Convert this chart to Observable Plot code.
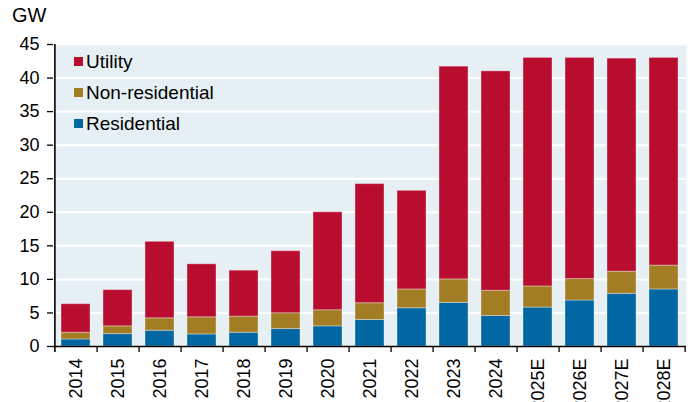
<!DOCTYPE html>
<html>
<head>
<meta charset="utf-8">
<script src="https://cdn.jsdelivr.net/npm/d3@7"></script>
<script src="https://cdn.jsdelivr.net/npm/@observablehq/plot@0.6"></script>
<style>
  html, body { margin: 0; padding: 0; background: #fff; }
  #wrap { position: relative; width: 692px; height: 402px; overflow: hidden; font-family: "Liberation Sans", Arial, sans-serif; color: #000; }
  #unit { position: absolute; left: 12px; top: 5px; font-size: 20px; line-height: 1; }
  .leg { position: absolute; left: 86px; font-size: 19px; line-height: 1; white-space: nowrap; }
  .sw { position: absolute; left: 74px; width: 9px; height: 9px; }
  svg { display: block; }
</style>
</head>
<body>
<div id="wrap"></div>
<script>
const years = ["2014","2015","2016","2017","2018","2019","2020","2021","2022","2023","2024","2025E","2026E","2027E","2028E"];
const seriesNames = ["Residential", "Non-residential", "Utility"];
const residential    = [1.05, 1.85, 2.35, 1.8, 2.05, 2.6, 3.0, 3.95, 5.7, 6.5, 4.55, 5.8, 6.85, 7.85, 8.5];
const nonResidential = [1.0, 1.15, 1.85, 2.55, 2.4, 2.35, 2.4, 2.5, 2.8, 3.5, 3.75, 3.15, 3.2, 3.3, 3.55];
const utility        = [4.25, 5.4, 11.4, 7.9, 6.85, 9.25, 14.6, 17.75, 14.7, 31.7, 32.7, 34.05, 32.95, 31.75, 30.95];
const yTicks = [0, 5, 10, 15, 20, 25, 30, 35, 40, 45];
const unitLabel = "GW";
const legendOrder = ["Utility", "Non-residential", "Residential"];
const colors = {"Utility": "#b80d2f", "Non-residential": "#a37d24", "Residential": "#0067a3"};

const seriesValues = {"Residential": residential, "Non-residential": nonResidential, "Utility": utility};
const data = [];
for (const s of seriesNames) years.forEach((y, i) => data.push({year: y, series: s, value: seriesValues[s][i]}));

const W = 692, H = 402, mL = 53, mR = 6, mT = 44, mB = 56;
const step = (W - mL - mR) / years.length;

const chart = Plot.plot({
  width: W, height: H,
  marginLeft: mL, marginRight: mR, marginTop: mT, marginBottom: mB,
  style: {fontFamily: "'Liberation Sans', Arial, sans-serif", fontSize: "18px", color: "#000", background: "transparent"},
  x: {type: "band", domain: years, paddingInner: 0.31, paddingOuter: 0.155, label: null},
  y: {domain: [0, 45], label: null},
  color: {domain: seriesNames, range: seriesNames.map(s => colors[s])},
  marks: [
    Plot.frame({fill: "#e6eff3", stroke: null}),
    Plot.gridY(yTicks, {stroke: "#ffffff", strokeOpacity: 1, strokeWidth: 2}),
    Plot.barY(data, {x: "year", y: "value", fill: "series", order: seriesNames, stroke: "#ffffff", strokeOpacity: 0.35, strokeWidth: 1}),
    Plot.ruleY([0], {stroke: "#000", strokeWidth: 1.6}),
    Plot.ruleX([years[0]], {dx: -step / 2, insetBottom: -6, stroke: "#000", strokeWidth: 1.6}),
    Plot.axisY(yTicks, {tickSize: 6, tickPadding: 8, fontSize: 18, label: null, stroke: "#000", strokeWidth: 1.3}),
    Plot.axisX({tickSize: 6, tickFormat: () => "", dx: step / 2, label: null, stroke: "#000", strokeWidth: 1.3}),
    Plot.axisX({tickSize: 0, tickPadding: 12, tickRotate: -90, fontSize: 18, label: null})
  ]
});

const wrap = document.getElementById("wrap");
wrap.appendChild(chart);

const unit = document.createElement("div");
unit.id = "unit";
unit.textContent = unitLabel;
wrap.appendChild(unit);

legendOrder.forEach((name, i) => {
  const top = 52 + i * 31;
  const sw = document.createElement("div");
  sw.className = "sw";
  sw.style.top = (top + 5) + "px";
  sw.style.background = colors[name];
  wrap.appendChild(sw);
  const t = document.createElement("div");
  t.className = "leg";
  t.style.top = top + "px";
  t.textContent = name;
  wrap.appendChild(t);
});
</script>
</body>
</html>
